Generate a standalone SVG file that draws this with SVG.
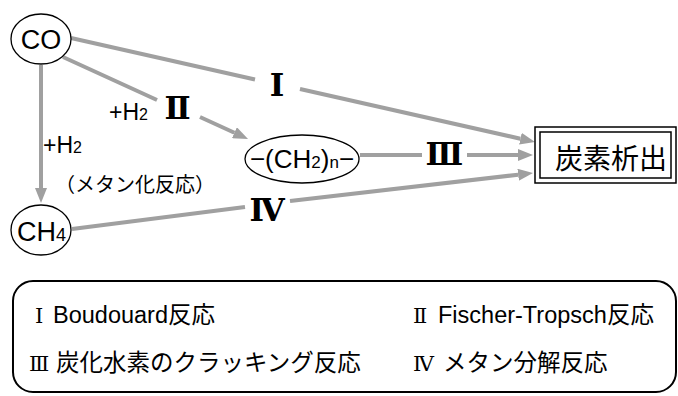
<svg xmlns="http://www.w3.org/2000/svg" width="678" height="396" viewBox="0 0 678 396">
<style>
.ln{stroke:#a0a0a0;stroke-width:4;fill:none}
.arr{stroke:#a0a0a0;stroke-width:4;fill:none;marker-end:url(#ah)}
.nd{fill:#fff;stroke:#000;stroke-width:1.3}
.lat{font-family:"Liberation Sans",Arial,sans-serif;fill:#000}
.jp{font-family:"Noto Sans CJK JP",sans-serif;fill:#000}
.rn{font-family:"DejaVu Serif","Noto Sans CJK JP",serif;font-weight:bold;fill:#000;text-anchor:middle}
.lg{font-family:"Liberation Sans","Noto Sans CJK JP",sans-serif;font-size:23.5px;fill:#000}
.lgn{font-family:"DejaVu Serif","Noto Sans CJK JP",serif;font-size:21px;fill:#000}
</style>
<defs>
<marker id="ah" markerUnits="userSpaceOnUse" viewBox="0 0 15 12" refX="0" refY="6" markerWidth="15" markerHeight="12" orient="auto">
<path d="M0,0 L15,6 L0,12 z" fill="#a0a0a0"/>
</marker>
</defs>
<g id="connectors">
<line class="ln" x1="71" y1="38" x2="255" y2="79.5"/>
<line class="arr" x1="300" y1="89" x2="520.4" y2="138.7"/>
<line class="ln" x1="63" y1="57" x2="157" y2="100"/>
<line class="arr" x1="200" y1="117" x2="234.4" y2="132.7"/>
<line class="arr" x1="41" y1="65" x2="41" y2="188"/>
<line class="ln" x1="360" y1="155" x2="422" y2="155"/>
<line class="arr" x1="467" y1="155" x2="518" y2="155"/>
<line class="ln" x1="72" y1="229" x2="245" y2="207"/>
<line class="arr" x1="290" y1="201" x2="518.1" y2="174.7"/>
<text class="rn" x="277" y="96" font-size="31">Ⅰ</text>
<text class="rn" x="177.5" y="119" font-size="31">Ⅱ</text>
<text class="rn" x="444.5" y="165" font-size="31">Ⅲ</text>
<text class="rn" x="267" y="221" font-size="31">Ⅳ</text>
<text class="lat" x="109" y="120" font-size="23">+H<tspan font-size="16">2</tspan></text>
<text class="lat" x="43" y="153" font-size="23">+H<tspan font-size="16">2</tspan></text>
<text class="jp" x="55" y="192" font-size="20">（メタン化反応）</text>
</g>
<g id="CO">
<ellipse class="nd" cx="41" cy="39" rx="30" ry="25"/>
<text class="lat" x="41" y="49" font-size="27" text-anchor="middle">CO</text>
</g>
<g id="CH4">
<ellipse class="nd" cx="41" cy="230" rx="30" ry="25"/>
<text class="lat" x="17" y="241" font-size="27">CH<tspan font-size="18">4</tspan></text>
</g>
<g id="CH2n">
<ellipse class="nd" cx="302" cy="159" rx="57" ry="24"/>
<text class="lat" x="302" y="168" font-size="26" text-anchor="middle">−(CH<tspan font-size="17">2</tspan>)<tspan font-size="17">n</tspan>−</text>
</g>
<g id="carbon">
<rect x="535" y="127" width="141" height="56" fill="#fff" stroke="#000" stroke-width="1.5"/>
<rect x="540" y="132" width="131" height="46" fill="none" stroke="#000" stroke-width="1.5"/>
<text class="jp" x="611" y="169" font-size="28" text-anchor="middle">炭素析出</text>
</g>
<g id="legend">
<rect x="13" y="281" width="663" height="111" rx="20" ry="20" fill="none" stroke="#000" stroke-width="2"/>
<text class="lgn" x="35" y="323">Ⅰ</text>
<text class="lg" x="53" y="323">Boudouard反応</text>
<text class="lgn" x="413" y="323">Ⅱ</text>
<text class="lg" x="438" y="323">Fischer-Tropsch反応</text>
<text class="lgn" x="29" y="371">Ⅲ</text>
<text class="lg" x="56" y="371">炭化水素のクラッキング反応</text>
<text class="lgn" x="413" y="371">Ⅳ</text>
<text class="lg" x="443" y="371">メタン分解反応</text>
</g>
</svg>
